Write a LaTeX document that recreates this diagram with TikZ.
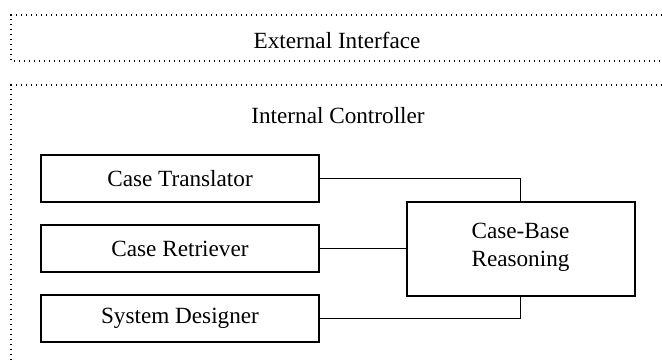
\documentclass[tikz,border=0pt]{standalone}
\usepackage{fontspec}
\setmainfont{Liberation Serif}
\begin{document}
\begin{tikzpicture}[x=0.75pt,y=-0.75pt,
  font=\fontsize{17.4pt}{21pt}\selectfont,
  frame/.style={line width=1pt,dash pattern=on 1.1pt off 2.65pt,line cap=butt},
  unit/.style={draw,line width=1.5pt,rectangle,minimum width=208.5pt,minimum height=35.25pt,inner sep=0pt},
  link/.style={line width=1pt}]
\useasboundingbox (0,0) rectangle (662,361);
% layered dotted frames, open on the right (and bottom for the lower one)
\draw[frame] (662,15) -- (11,15) -- (11,61) -- (662,61);
\draw[frame] (662,85) -- (11,85) -- (11,361);
\node (ext) at (337,40) {External Interface};
\node (intc) at (338,116) {Internal Controller};
% component boxes
\node[unit] (ct) at (180,178.5) {Case Translator};
\node[unit] (cr) at (180,248.5) {Case Retriever};
\node[unit] (sd) at (180,318.5) {System Designer};
\node[unit,minimum width=171pt,minimum height=70.5pt,align=center,text depth=6pt] (cbr) at (520.5,249) {Case-Base\\Reasoning};
% connectors
\draw[link] (ct.east) -| (cbr.north);
\draw[link] (cr.east) -- (cr.east -| cbr.west);
\draw[link] (sd.east) -| (cbr.south);
\end{tikzpicture}
\end{document}
